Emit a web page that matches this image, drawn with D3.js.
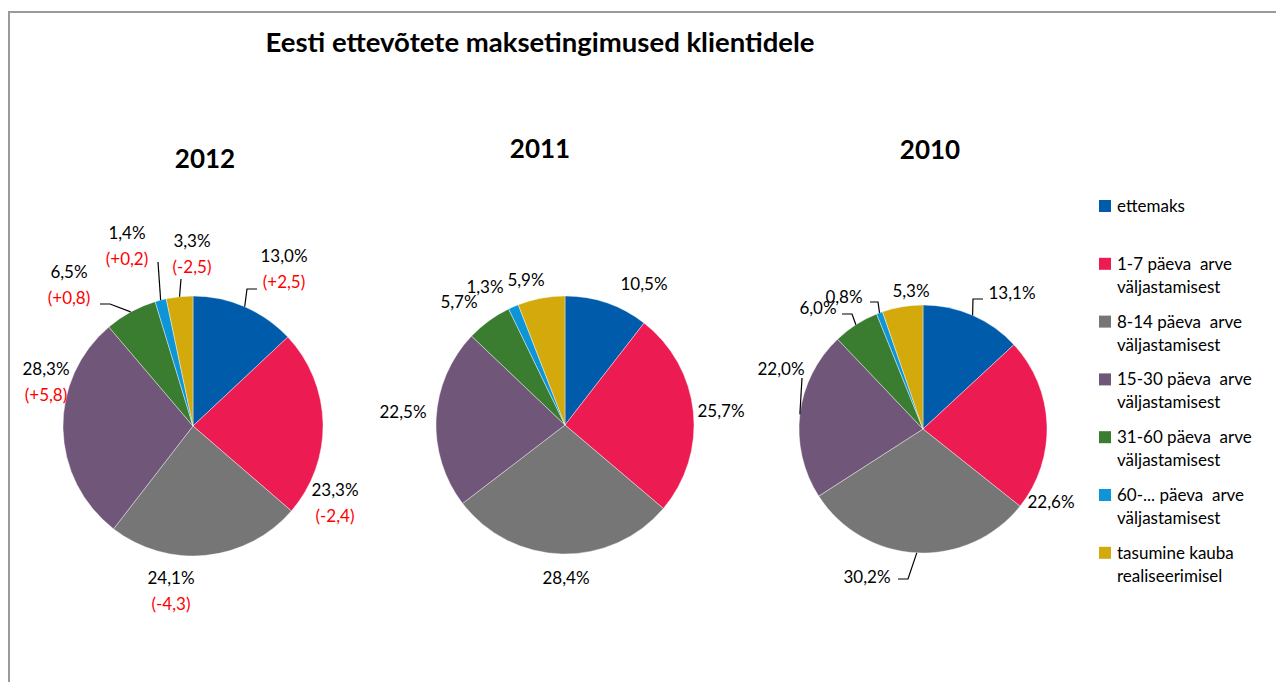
<!DOCTYPE html>
<html>
<head>
<meta charset="utf-8">
<script src="https://cdn.jsdelivr.net/npm/d3@7"></script>
<style>
  body { margin: 0; background: #fff; }
  text { font-family: Lato, "Open Sans", sans-serif; }
</style>
</head>
<body>
<div id="chart"></div>
<script>
// data
const categories = ["ettemaks", "1-7 päeva arve väljastamisest", "8-14 päeva arve väljastamisest",
  "15-30 päeva arve väljastamisest", "31-60 päeva arve väljastamisest",
  "60-... päeva arve väljastamisest", "tasumine kauba realiseerimisel"];
const legendLines = [["ettemaks"], ["1-7 päeva  arve", "väljastamisest"], ["8-14 päeva  arve", "väljastamisest"],
  ["15-30 päeva  arve", "väljastamisest"], ["31-60 päeva  arve", "väljastamisest"],
  ["60-... päeva  arve", "väljastamisest"], ["tasumine kauba", "realiseerimisel"]];
const years = ["2012", "2011", "2010"];
const share2012 = [13.0, 23.3, 24.1, 28.3, 6.5, 1.4, 3.3];
const share2011 = [10.5, 25.7, 28.4, 22.5, 5.7, 1.3, 5.9];
const share2010 = [13.1, 22.6, 30.2, 22.0, 6.0, 0.8, 5.3];
const change2012 = [2.5, -2.4, -4.3, 5.8, 0.8, 0.2, -2.5];
const colors = ["#005CAB", "#EC1B52", "#767676", "#705678", "#3A7C30", "#0E95D8", "#D3A90B"];

const W = 1276, H = 682;
const svg = d3.select("#chart").append("svg").attr("width", W).attr("height", H);

// frame
svg.append("path").attr("d", `M9,${H + 5}V12H${W + 5}`)
  .attr("fill", "none").attr("stroke", "#9a9a9a").attr("stroke-width", 2);

svg.append("text").attr("x", 540).attr("y", 52).attr("text-anchor", "middle")
  .attr("font-size", 27.5).attr("font-weight", "bold").text("Eesti ettevõtete maksetingimused klientidele");

const locale = d3.formatLocale({ decimal: ",", thousands: " ", grouping: [3], currency: ["", ""], minus: "-" });
const fmt = locale.format(".1f");
const fmtChg = v => "(" + (v > 0 ? "+" : "") + fmt(v) + ")";

// layout: pie centers, label offsets from center, leader elbows
const pies = [
  { values: share2012, change: change2012, cx: 193, cy: 426, r: 130, title: [205, 168],
    labels: [[91, -170], [142, 64], [-22, 152], [-147, -57], [-124, -154], [-66, -193], [-1, -185]],
    leaders: { 0: [[54, -137], [64, -137]], 4: [[-83, -122], [-93, -122]], 5: [[-35, -164]], 6: [[-12, -147]] } },
  { values: share2011, cx: 565, cy: 425, r: 129, title: [540, 158],
    labels: [[79, -141], [156, -14], [1, 153], [-162, -13], [-106, -123], [-80, -138], [-39, -145]],
    leaders: {} },
  { values: share2010, cx: 923, cy: 429, r: 124, title: [930, 159],
    labels: [[89, -136], [128, 73], [-56, 148], [-142, -60], [-105, -121], [-79, -132], [-12, -138]],
    leaders: { 0: [[50, -130], [60, -130]], 2: [[-15, 150], [-25, 150]], 3: [[-121, -51]],
      4: [[-71, -115], [-81, -115]], 5: [[-45, -127], [-53, -127]] } }
];

const pie = d3.pie().sort(null).value(d => d);

pies.forEach((p, pi) => {
  const g = svg.append("g").attr("transform", `translate(${p.cx},${p.cy})`);
  const arc = d3.arc().innerRadius(0).outerRadius(p.r);
  const edge = d3.arc().innerRadius(p.r).outerRadius(p.r);
  const arcs = pie(p.values);

  g.selectAll("path.slice").data(arcs).enter().append("path")
    .attr("class", "slice")
    .attr("d", arc)
    .attr("fill", (d, i) => colors[i])
    .attr("stroke", "#fff").attr("stroke-width", 0.4);

  svg.append("text").attr("x", p.title[0]).attr("y", p.title[1]).attr("text-anchor", "middle")
    .attr("font-size", 26).attr("font-weight", "bold").text(years[pi]);

  arcs.forEach((d, i) => {
    const pts = p.leaders[i];
    if (pts) {
      g.append("path")
        .attr("d", d3.line()([edge.centroid(d), ...pts]))
        .attr("fill", "none").attr("stroke", "#000").attr("stroke-width", 1.2);
    }
    const [lx, ly] = p.labels[i];
    g.append("text").attr("x", lx).attr("y", ly + 6).attr("text-anchor", "middle")
      .attr("font-size", 17).attr("fill", "#000").text(fmt(p.values[i]) + "%");
    if (p.change) {
      g.append("text").attr("x", lx).attr("y", ly + 32).attr("text-anchor", "middle")
        .attr("font-size", 17).attr("fill", "#ff0000").text(fmtChg(p.change[i]));
    }
  });
});

// legend
const legend = svg.append("g").attr("transform", "translate(1099,206)");
categories.forEach((c, i) => {
  const y = i * 57.8;
  legend.append("rect").attr("x", 0).attr("y", y - 6).attr("width", 12).attr("height", 12).attr("fill", colors[i]);
  legendLines[i].forEach((t, j) => {
    legend.append("text").attr("x", 18).attr("y", y + 6 + j * 23)
      .attr("font-size", 17).attr("fill", "#000").attr("xml:space", "preserve").style("white-space", "pre").text(t);
  });
});
</script>
</body>
</html>
